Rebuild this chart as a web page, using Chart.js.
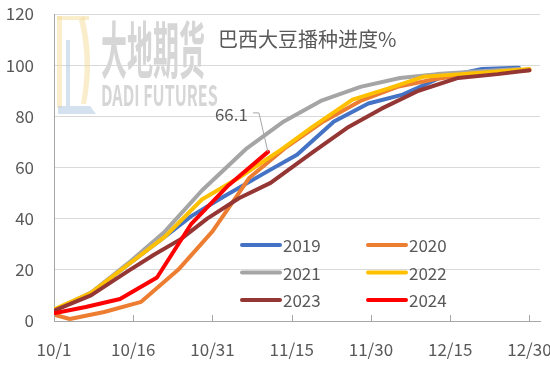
<!DOCTYPE html>
<html>
<head>
<meta charset="utf-8">
<script src="https://cdn.jsdelivr.net/npm/chart.js@4.4.1/dist/chart.umd.min.js"></script>
<style>
  html, body { margin: 0; padding: 0; background: #fff; overflow: hidden; }
  #wrap { width: 550px; height: 365px; overflow: hidden; }
</style>
</head>
<body>
<div id="wrap"><canvas id="chart" width="600" height="365"></canvas></div>
<script>
// Days counted from 10/1, values in %
const tickDays = [0, 15, 30, 45, 60, 75, 90];
const tickLabels = ['10/1', '10/16', '10/31', '11/15', '11/30', '12/15', '12/30'];
const yTicks = [0, 20, 40, 60, 80, 100, 120];

const days2019 = [0, 7, 14, 21, 26, 32, 40, 46, 53, 59.5, 66, 73, 81, 88];
const vals2019 = [4, 11, 22, 33, 41, 48.5, 58, 65, 78, 85, 88.5, 95, 98.5, 99];

const days2020 = [0, 3, 9.5, 16.5, 23.5, 30, 37, 44, 51, 58, 65, 72, 79, 86, 90];
const vals2020 = [2.5, 0.8, 3.5, 7.5, 20, 35, 56, 68, 78, 86, 91.5, 94.5, 96.5, 97.5, 98];

const days2021 = [0, 7, 14, 21, 28, 36.5, 43.5, 50.5, 58, 65.5, 72.5, 80, 88];
const vals2021 = [4, 11, 22.5, 35, 51, 67.5, 78, 86, 91.5, 95, 96.5, 97.5, 98.5];

const days2022 = [0, 7, 14, 21, 28, 35, 43, 49, 56.5, 63.5, 70, 77, 84, 90];
const vals2022 = [4.5, 11, 22, 33, 47.5, 56, 67, 76, 86.5, 91, 95.5, 96.5, 97.5, 98.5];

const days2023 = [0, 7, 14, 19, 24, 29, 35, 41, 49, 55.5, 62, 69, 76.5, 84, 90];
const vals2023 = [4, 10, 19.5, 26, 32, 40, 48, 54, 66, 75.5, 83, 90, 95, 96.5, 98];

const days2024 = [0, 6, 12.5, 19.5, 26, 33, 40.5];
const vals2024 = [3, 5.5, 8.6, 17, 38, 53, 66.1];

const FONT = '"Noto Sans CJK SC", "Noto Sans", sans-serif';
const TEXT = '#595959';

function pts(days, vals) {
    return days.map((d, i) => ({ x: d, y: vals[i] }));
}

function series(label, days, vals, color, order) {
    return {
        label: label,
        data: pts(days, vals),
        borderColor: color,
        backgroundColor: color,
        borderWidth: 4,
        pointRadius: 0,
        tension: 0,
        borderCapStyle: 'round',
        borderJoinStyle: 'round',
        order: order
    };
}

// watermark logo + text, sits behind the lines
const watermark = {
    id: 'watermark',
    beforeDatasetsDraw(chart) {
        const ctx = chart.ctx;
        ctx.save();
        ctx.globalAlpha = 0.5;
        ctx.fillStyle = '#f3dc9a';
        ctx.fillRect(57, 16, 5, 92);
        ctx.fillRect(57, 16, 32, 4);
        ctx.beginPath();
        ctx.moveTo(84, 16);
        ctx.quadraticCurveTo(95, 60, 86, 104);
        ctx.lineTo(81, 104);
        ctx.quadraticCurveTo(89, 60, 79, 20);
        ctx.closePath();
        ctx.fill();
        ctx.fillStyle = '#a9c4e0';
        ctx.fillRect(66, 40, 4, 66);
        ctx.beginPath();
        ctx.moveTo(58, 106);
        ctx.lineTo(90, 106);
        ctx.lineTo(96, 114);
        ctx.lineTo(58, 114);
        ctx.closePath();
        ctx.fill();
        ctx.globalAlpha = 1;
        ctx.fillStyle = '#d6d6d6';
        ctx.textBaseline = 'alphabetic';
        ctx.save();
        ctx.translate(101, 74);
        ctx.scale(0.52, 1.25);
        ctx.font = 'bold 50px ' + FONT;
        ctx.fillText('大地期货', 0, 0);
        ctx.restore();
        ctx.save();
        ctx.translate(101, 106);
        ctx.scale(0.62, 1.1);
        ctx.font = 'bold 26px ' + FONT;
        ctx.fillText('DADI FUTURES', 0, 0);
        ctx.restore();
        ctx.restore();
    }
};

// inside tick marks, title, legend and the 66.1 callout
const extras = {
    id: 'extras',
    afterDatasetsDraw(chart) {
        const ctx = chart.ctx;
        const xs = chart.scales.x;
        const area = chart.chartArea;
        ctx.save();

        ctx.strokeStyle = '#a6a6a6';
        ctx.lineWidth = 1;
        tickDays.forEach((d) => {
            const px = Math.round(xs.getPixelForValue(d)) + 0.5;
            ctx.beginPath();
            ctx.moveTo(px, area.bottom - 6);
            ctx.lineTo(px, area.bottom);
            ctx.stroke();
        });

        ctx.fillStyle = TEXT;
        ctx.font = '20px ' + FONT;
        ctx.textAlign = 'left';
        ctx.textBaseline = 'middle';
        ctx.fillText('巴西大豆播种进度%', 218, 39);

        // legend, 2 columns x 3 rows
        ctx.font = '17px ' + FONT;
        chart.data.datasets.forEach((ds, i) => {
            const col = i % 2;
            const row = Math.floor(i / 2);
            const x0 = col === 0 ? 242 : 368;
            const y0 = 245 + row * 27.5;
            ctx.strokeStyle = ds.borderColor;
            ctx.lineWidth = 4;
            ctx.lineCap = 'round';
            ctx.beginPath();
            ctx.moveTo(x0, y0);
            ctx.lineTo(x0 + 38, y0);
            ctx.stroke();
            ctx.fillStyle = TEXT;
            ctx.fillText(ds.label, x0 + 41, y0 + 1);
        });

        // callout on the last 2024 point
        const last = vals2024.length - 1;
        const px = xs.getPixelForValue(days2024[last]);
        const py = chart.scales.y.getPixelForValue(vals2024[last]);
        ctx.strokeStyle = '#a6a6a6';
        ctx.lineWidth = 1;
        ctx.lineCap = 'butt';
        ctx.beginPath();
        ctx.moveTo(px - 15, py - 39);
        ctx.lineTo(px - 9, py - 39);
        ctx.lineTo(px, py);
        ctx.stroke();
        ctx.fillStyle = TEXT;
        ctx.textAlign = 'right';
        ctx.fillText(vals2024[last].toFixed(1), px - 20, py - 37);

        ctx.restore();
    }
};

new Chart(document.getElementById('chart'), {
    type: 'line',
    data: {
        datasets: [
            series('2019', days2019, vals2019, '#4472C4', 6),
            series('2020', days2020, vals2020, '#ED7D31', 5),
            series('2021', days2021, vals2021, '#A5A5A5', 4),
            series('2022', days2022, vals2022, '#FFC000', 3),
            series('2023', days2023, vals2023, '#943634', 2),
            series('2024', days2024, vals2024, '#FF0000', 1)
        ]
    },
    options: {
        responsive: false,
        animation: false,
        devicePixelRatio: 1,
        layout: { padding: { left: 0, right: 60, top: 14, bottom: 0 } },
        plugins: {
            legend: { display: false },
            tooltip: { enabled: false },
            title: { display: false }
        },
        scales: {
            x: {
                type: 'linear',
                min: 0,
                max: 92,
                afterBuildTicks: (scale) => {
                    scale.ticks = tickDays.map((v) => ({ value: v }));
                },
                afterFit: (scale) => {
                    scale.height = 44;
                    scale.paddingLeft = 0;
                    scale.paddingRight = 0;
                },
                grid: { display: false, drawTicks: false },
                border: { display: true, color: '#a6a6a6', width: 1 },
                ticks: {
                    padding: 18,
                    color: TEXT,
                    font: { family: FONT, size: 17 },
                    maxRotation: 0,
                    autoSkip: false,
                    callback: (v) => tickLabels[tickDays.indexOf(v)]
                }
            },
            y: {
                min: 0,
                max: 120,
                afterBuildTicks: (scale) => {
                    scale.ticks = yTicks.map((v) => ({ value: v }));
                },
                afterFit: (scale) => {
                    scale.width = 54;
                    scale.paddingTop = 0;
                    scale.paddingBottom = 0;
                },
                grid: { color: '#d9d9d9', lineWidth: 1, drawTicks: false },
                border: { display: true, color: '#a6a6a6', width: 1 },
                ticks: {
                    padding: 20,
                    color: TEXT,
                    font: { family: FONT, size: 17 }
                }
            }
        }
    },
    plugins: [watermark, extras]
});
</script>
</body>
</html>
